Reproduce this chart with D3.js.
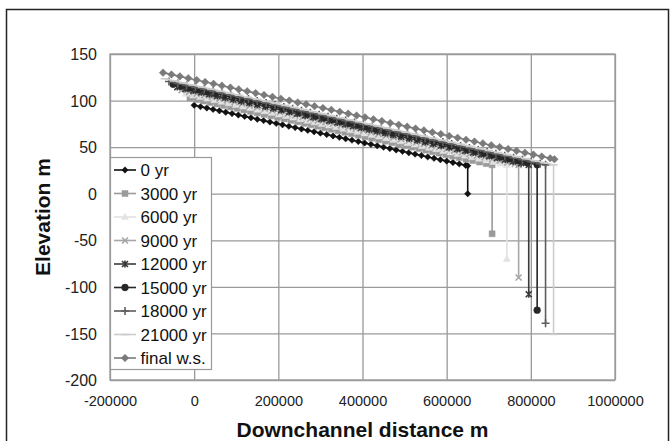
<!DOCTYPE html>
<html><head><meta charset="utf-8">
<script src="https://cdn.jsdelivr.net/npm/d3@7"></script>
<style>body{margin:0;background:#fff;} svg{display:block;} text{font-family:"Liberation Sans",Arial,Helvetica,sans-serif;}</style>
</head><body><svg id="c" width="672" height="441"></svg>
<script>
// ---- data (distance in km, elevation in m) ----
const seriesNames = ["0 yr","3000 yr","6000 yr","9000 yr","12000 yr","15000 yr","18000 yr","21000 yr","final w.s."];

const dist0 = [0,15,30,45,60,75,90,105,120,135,150,165,180,195,210,225,240,255,270,285,300,315,330,345,360,375,390,405,420,435,450,465,480,495,510,525,540,555,570,585,600,615,630,645,650,650];
const elev0 = [95,93.5,92,90.5,89,87.5,86,84.5,83,81.5,80,78.5,77,75.5,74,72.5,71,69.5,68,66.5,65,63.5,62,60.5,59,57.5,56,54.5,53,51.5,50,48.5,47,45.5,44,42.5,41,39.5,38,36.5,35,33.5,32,30.5,30,0];

const dist3000 = [-10,6,22,38,54,70,86,102,118,134,150,166,182,198,214,230,246,262,278,294,310,326,342,358,374,390,406,422,438,454,470,486,502,518,534,550,566,582,598,614,630,646,662,678,694,708,708];
const elev3000 = [102.8,101.2,99.6,98,96.4,94.8,93.2,91.6,90,88.4,86.8,85.2,83.6,82,80.4,78.8,77.2,75.6,74,72.4,70.8,69.2,67.6,66,64.4,62.8,61.2,59.6,58,56.4,54.8,53.2,51.6,50,48.4,46.8,45.2,43.6,42,40.4,38.8,37.2,35.6,34,32.4,31,-43];

const dist6000 = [-20,-3,14,31,48,65,82,99,116,133,150,167,184,201,218,235,252,269,286,303,320,337,354,371,388,405,422,439,456,473,490,507,524,541,558,575,592,609,626,643,660,677,694,711,728,743,743];
const elev6000 = [107.3,105.6,103.9,102.2,100.5,98.8,97.1,95.4,93.7,92,90.3,88.6,86.9,85.2,83.5,81.8,80.1,78.4,76.7,75,73.3,71.6,69.9,68.2,66.5,64.8,63.1,61.4,59.7,58,56.3,54.6,52.9,51.2,49.5,47.8,46.1,44.4,42.7,41,39.3,37.6,35.9,34.2,32.5,31,-70];

const dist9000 = [-30,-12,6,24,42,60,78,96,114,132,150,168,186,204,222,240,258,276,294,312,330,348,366,384,402,420,438,456,474,492,510,528,546,564,582,600,618,636,654,672,690,708,726,744,762,771,771];
const elev9000 = [111.1,109.3,107.5,105.7,103.9,102.1,100.3,98.5,96.7,94.9,93.1,91.3,89.5,87.7,85.9,84.1,82.3,80.5,78.7,76.9,75.1,73.3,71.5,69.7,67.9,66.1,64.3,62.5,60.7,58.9,57.1,55.3,53.5,51.7,49.9,48.1,46.3,44.5,42.7,40.9,39.1,37.3,35.5,33.7,31.9,31,-90];

const dist12000 = [-40,-21,-2,17,36,55,74,93,112,131,150,169,188,207,226,245,264,283,302,321,340,359,378,397,416,435,454,473,492,511,530,549,568,587,606,625,644,663,682,701,720,739,758,777,795,795];
const elev12000 = [114.5,112.6,110.7,108.8,106.9,105,103.1,101.2,99.3,97.4,95.5,93.6,91.7,89.8,87.9,86,84.1,82.2,80.3,78.4,76.5,74.6,72.7,70.8,68.9,67,65.1,63.2,61.3,59.4,57.5,55.6,53.7,51.8,49.9,48,46.1,44.2,42.3,40.4,38.5,36.6,34.7,32.8,31,-108];

const dist15000 = [-50,-30,-10,10,30,50,70,90,110,130,150,170,190,210,230,250,270,290,310,330,350,370,390,410,430,450,470,490,510,530,550,570,590,610,630,650,670,690,710,730,750,770,790,815,815];
const elev15000 = [117.5,115.5,113.5,111.5,109.5,107.5,105.5,103.5,101.5,99.5,97.5,95.5,93.5,91.5,89.5,87.5,85.5,83.5,81.5,79.5,77.5,75.5,73.5,71.5,69.5,67.5,65.5,63.5,61.5,59.5,57.5,55.5,53.5,51.5,49.5,47.5,45.5,43.5,41.5,39.5,37.5,35.5,33.5,31,-125];

const dist18000 = [-60,-39,-18,3,24,45,66,87,108,129,150,171,192,213,234,255,276,297,318,339,360,381,402,423,444,465,486,507,528,549,570,591,612,633,654,675,696,717,738,759,780,801,822,835,835];
const elev18000 = [120.5,118.4,116.3,114.2,112.1,110,107.9,105.8,103.7,101.6,99.5,97.4,95.3,93.2,91.1,89,86.9,84.8,82.7,80.6,78.5,76.4,74.3,72.2,70.1,68,65.9,63.8,61.7,59.6,57.5,55.4,53.3,51.2,49.1,47,44.9,42.8,40.7,38.6,36.5,34.4,32.3,31,-139];

const dist21000 = [-70,-48,-26,-4,18,40,62,84,106,128,150,172,194,216,238,260,282,304,326,348,370,392,414,436,458,480,502,524,546,568,590,612,634,656,678,700,722,744,766,788,810,832,854,854];
const elev21000 = [123.4,121.2,119,116.8,114.6,112.4,110.2,108,105.8,103.6,101.4,99.2,97,94.8,92.6,90.4,88.2,86,83.8,81.6,79.4,77.2,75,72.8,70.6,68.4,66.2,64,61.8,59.6,57.4,55.2,53,50.8,48.6,46.4,44.2,42,39.8,37.6,35.4,33.2,31,-151];

const distFinal = [-74,-54,-34,-14,6,26,46,66,86,106,126,146,166,186,206,226,246,266,286,306,326,346,366,386,406,426,446,466,486,506,526,546,566,586,606,626,646,666,686,706,726,746,766,786,806,826,846,856];
const elevFinal = [130,128,126,124,122,120,118,116,114,112,110,108,106,104,102,100,98,96,94,92,90,88,86,84,82,80,78,76,74,72,70,68,66,64,62,60,58,56,54,52,50,48,46,44,42,40,38,37];

const xTicks = [-200000,0,200000,400000,600000,800000,1000000];
const yTicks = [-200,-150,-100,-50,0,50,100,150];

// ---- styles ----
const seriesDist = [dist0,dist3000,dist6000,dist9000,dist12000,dist15000,dist18000,dist21000,distFinal];
const seriesElev = [elev0,elev3000,elev6000,elev9000,elev12000,elev15000,elev18000,elev21000,elevFinal];
const colors = ["#111111","#9a9a9a","#e2e2e2","#a6a6a6","#3a3a3a","#262626","#5e5e5e","#cccccc","#7a7a7a"];
const markers = ["diamondS","square","triangle","x","star","circle","plus","dash","diamond"];

const W = 672, H = 441;
const m = {l:110, r:615, t:54, b:380};
const svg = d3.select("#c");
const x = d3.scaleLinear().domain([-200000,1000000]).range([m.l,m.r]);
const y = d3.scaleLinear().domain([-200,150]).range([m.b,m.t]);

svg.append("rect").attr("width",W).attr("height",H).attr("fill","#fff");
svg.append("rect").attr("x",6.5).attr("y",9.5).attr("width",662).attr("height",460)
  .attr("fill","none").attr("stroke","#222").attr("stroke-width",1.5);

// grid + axes
const gx = svg.append("g").attr("transform",`translate(0,${m.b})`)
  .call(d3.axisBottom(x).tickValues(xTicks).tickSize(-(m.b-m.t)).tickFormat(d=>String(d)));
gx.select(".domain").remove();
gx.selectAll("line").attr("stroke","#9a9a9a").attr("stroke-width",1.3);
gx.selectAll("text").attr("fill","#222").attr("font-size",14.5).attr("y",16).attr("dy","0.71em");

const gy = svg.append("g").attr("transform",`translate(${m.l},0)`)
  .call(d3.axisLeft(y).tickValues(yTicks).tickSize(-(m.r-m.l)).tickFormat(d=>String(d)));
gy.select(".domain").remove();
gy.selectAll("line").attr("stroke","#9a9a9a").attr("stroke-width",1.3);
gy.selectAll("text").attr("fill","#222").attr("font-size",16).attr("x",-13).attr("dy","0.35em");

svg.append("rect").attr("x",m.l).attr("y",m.t).attr("width",m.r-m.l).attr("height",m.b-m.t)
  .attr("fill","none").attr("stroke","#9a9a9a").attr("stroke-width",1.3);

// marker path
function markerPath(type){
  switch(type){
    case "diamondS": return "M0,-3.2L3.2,0L0,3.2L-3.2,0Z";
    case "diamond": return "M0,-3.8L3.8,0L0,3.8L-3.8,0Z";
    case "square": return "M-3,-3H3V3H-3Z";
    case "triangle": return "M0,-3.8L3.5,2.6H-3.5Z";
    case "x": return "M-3,-3L3,3M-3,3L3,-3";
    case "star": return "M-3,-3L3,3M-3,3L3,-3M0,-3.5V3.5";
    case "circle": return "M3.4,0A3.4,3.4 0 1,1 -3.4,0A3.4,3.4 0 1,1 3.4,0Z";
    case "plus": return "M-4,0H4M0,-4V4";
    case "dash": return "M-4,0H4";
  }
}
const stroked = {x:true, star:true, plus:true, dash:true};
function drawMarker(g, type, color, px, py){
  const p = g.append("path").attr("d", markerPath(type)).attr("transform",`translate(${px},${py})`);
  if(stroked[type]) p.attr("fill","none").attr("stroke",color).attr("stroke-width",1.6);
  else p.attr("fill",color).attr("stroke",color).attr("stroke-width",0.5);
}

const line = d3.line().x(d=>x(d[0]*1000)).y(d=>y(d[1]));
const plot = svg.append("g");
seriesNames.forEach((name,i)=>{
  const pts = seriesDist[i].map((d,j)=>[d, seriesElev[i][j]]);
  const g = plot.append("g");
  g.append("path").attr("d", line(pts)).attr("fill","none").attr("stroke",colors[i]).attr("stroke-width",1.6);
  pts.forEach(p=>drawMarker(g, markers[i], colors[i], x(p[0]*1000), y(p[1])));
});

// legend
const lg = svg.append("g");
lg.append("rect").attr("x",110.5).attr("y",157.5).attr("width",101).attr("height",212)
  .attr("fill","#fff").attr("stroke","#999").attr("stroke-width",1.2);
seriesNames.forEach((name,i)=>{
  const cy = 170 + i*23.5;
  lg.append("line").attr("x1",114).attr("x2",136).attr("y1",cy).attr("y2",cy)
    .attr("stroke",colors[i]).attr("stroke-width",1.6);
  drawMarker(lg, markers[i], colors[i], 125, cy);
  lg.append("text").attr("x",140.5).attr("y",cy).attr("dy","0.36em").attr("font-size",17)
    .attr("fill","#111").text(name);
});

// axis titles
svg.append("text").attr("transform","translate(50,217) rotate(-90)").attr("text-anchor","middle")
  .attr("font-size",21).attr("font-weight","bold").attr("fill","#111").text("Elevation m");
svg.append("text").attr("x",362.5).attr("y",437).attr("text-anchor","middle")
  .attr("font-size",21).attr("font-weight","bold").attr("fill","#111").text("Downchannel distance m");
</script></body></html>
